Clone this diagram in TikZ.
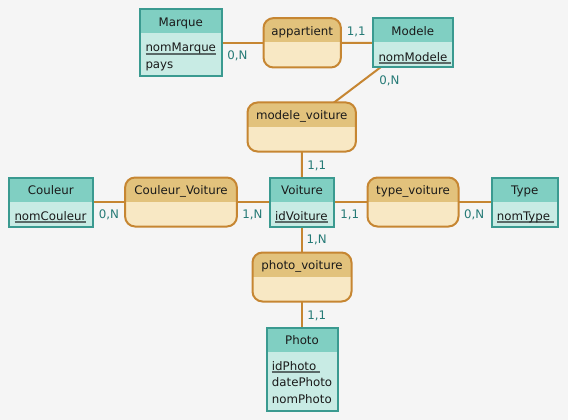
\documentclass[tikz,border=0pt]{standalone}
\usepackage{fontspec}
\setmainfont{DejaVu Sans}
\definecolor{entborder}{HTML}{3A9A90}
\definecolor{enthead}{HTML}{80CFC2}
\definecolor{entbody}{HTML}{C8EBE4}
\definecolor{relborder}{HTML}{C68632}
\definecolor{relhead}{HTML}{E2C27C}
\definecolor{relbody}{HTML}{F8E8C4}
\definecolor{cardc}{HTML}{257A76}
\definecolor{ulc}{HTML}{5A6A68}
\definecolor{bgc}{HTML}{F5F5F5}
\definecolor{txtc}{HTML}{1A1A1A}
\pgfdeclarelayer{lines}
\pgfsetlayers{lines,main}
\newcommand\ulk[1]{\setbox0\hbox{#1}\rlap{\color{ulc}\rule[-3pt]{\wd0}{1.8pt}}\box0}
\tikzset{
  entshape/.style={rectangle, fill=entbody, draw=none, inner sep=0pt},
  relshape/.style={rectangle, rounded corners=10pt, fill=relbody, draw=none, inner sep=0pt},
  titletxt/.style={anchor=base, inner sep=0pt, text=txtc, font=\fontsize{11.8}{14}\selectfont},
  rowtxt/.style={anchor=base west, inner sep=0pt, text=txtc, font=\fontsize{11.8}{14}\selectfont},
  cardlbl/.style={inner sep=0pt, text=cardc, text height=8.5pt, text depth=0pt, font=\fontsize{11.8}{14}\selectfont},
  link/.style={draw=relborder, line width=2pt},
}
% #1 name, #2 x1, #3 y1, #4 x2, #5 y2, #6 title
\newcommand\mkent[6]{%
  \node[entshape, minimum width={(#4)-(#2)-2}, minimum height={(#5)-(#3)-2}] (#1) at ({((#2)+(#4))/2},{((#3)+(#5))/2}) {};
  \fill[enthead] (#1.north west) rectangle ([yshift=-24pt]#1.north east);
  \draw[entborder, line width=2pt] (#1.north west) rectangle (#1.south east);
  \node[titletxt] (#1-t) at ([yshift=-17.4pt]#1.north) {#6};
}
\newcommand\mkrel[6]{%
  \node[relshape, minimum width={(#4)-(#2)-2}, minimum height={(#5)-(#3)-2}] (#1) at ({((#2)+(#4))/2},{((#3)+(#5))/2}) {};
  \begin{scope}
    \clip[rounded corners=10pt] (#1.north west) rectangle (#1.south east);
    \fill[relhead] (#1.north west) rectangle ([yshift=-24.4pt]#1.north east);
  \end{scope}
  \draw[relborder, line width=2pt, rounded corners=10pt] (#1.north west) rectangle (#1.south east);
  \node[titletxt] (#1-t) at ([yshift=-17.4pt]#1.north) {#6};
}
\begin{document}
\begin{tikzpicture}[x=1pt,y=-1pt]
\useasboundingbox (0,0) rectangle (568,420);

% entities
\mkent{marque}{139.3}{8.3}{222.3}{77.3}{Marque}
\node[rowtxt] (marque-r1) at (145.3,51.7) {\ulk{nomMarque}};
\node[rowtxt] (marque-r2) at (145.3,68.3) {pays};

\mkent{modele}{372.3}{17.5}{453.3}{68.3}{Modele}
\node[rowtxt] (modele-r1) at (378.3,61.1) {\ulk{nomModele\ }};

\mkent{couleur}{8.3}{176.7}{93.3}{227.3}{Couleur}
\node[rowtxt] (couleur-r1) at (14.3,220.1) {\ulk{nomCouleur}};

\mkent{voiture}{269}{176.7}{335}{227.3}{Voiture}
\node[rowtxt] (voiture-r1) at (275,220.1) {\ulk{idVoiture}};

\mkent{type}{490.7}{176.7}{558.7}{227.3}{Type}
\node[rowtxt] (type-r1) at (496.7,220.1) {\ulk{nomType\ }};

\mkent{photo}{265.7}{326.7}{338.3}{411.7}{Photo}
\node[rowtxt] (photo-r1) at (271.7,370.1) {\ulk{idPhoto\ }};
\node[rowtxt] (photo-r2) at (271.7,386.7) {datePhoto};
\node[rowtxt] (photo-r3) at (271.7,403.3) {nomPhoto};

% relations
\mkrel{appartient}{262.7}{17.3}{341.7}{68.3}{appartient}
\mkrel{modvoit}{246.7}{101.7}{356.7}{152.3}{modele\_voiture}
\mkrel{coulvoit}{124.3}{176.7}{237.7}{227.3}{Couleur\_Voiture}
\mkrel{typevoit}{366.7}{176.7}{459.3}{227.3}{type\_voiture}
\mkrel{photovoit}{251.7}{251.7}{352.3}{302.3}{photo\_voiture}

% cardinalities
\node[cardlbl] (c1) at (237.3,55) {0,N};
\node[cardlbl] (c2) at (356.3,31) {1,1};
\node[cardlbl] (c3) at (389.5,80.7) {0,N};
\node[cardlbl] (c4) at (316.7,165) {1,1};
\node[cardlbl] (c5) at (108.8,214) {0,N};
\node[cardlbl] (c6) at (252.3,214) {1,N};
\node[cardlbl] (c7) at (349.8,214) {1,1};
\node[cardlbl] (c8) at (474.2,214) {0,N};
\node[cardlbl] (c9) at (316.7,239.3) {1,N};
\node[cardlbl] (c10) at (316.7,315) {1,1};

\begin{pgfonlayer}{lines}
\fill[bgc] (0,0) rectangle (568,420);
\draw[link] (marque.center) -- (appartient.center);
\draw[link] (appartient.center) -- (modele.center);
\draw[link] (modele.center) -- (modvoit.center);
\draw[link] (modvoit.center) -- (voiture.center);
\draw[link] (couleur.center) -- (coulvoit.center);
\draw[link] (coulvoit.center) -- (voiture.center);
\draw[link] (voiture.center) -- (typevoit.center);
\draw[link] (typevoit.center) -- (type.center);
\draw[link] (voiture.center) -- (photovoit.center);
\draw[link] (photovoit.center) -- (photo.center);
\end{pgfonlayer}
\end{tikzpicture}
\end{document}
